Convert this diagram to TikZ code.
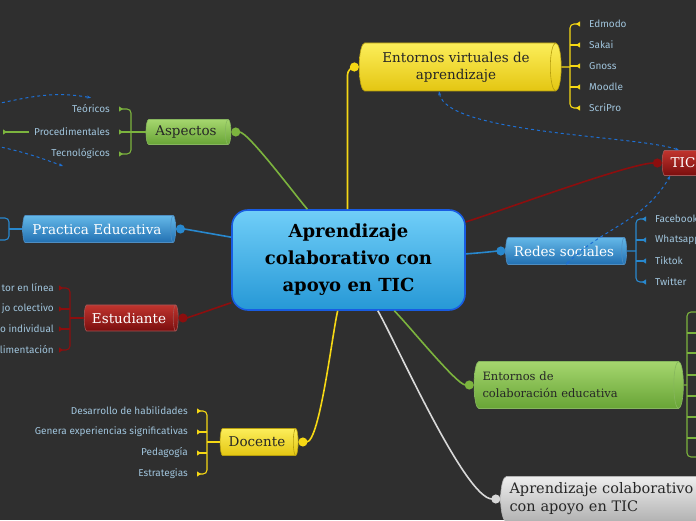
\documentclass[tikz,border=0pt]{standalone}
\usepackage{fontspec}
\setmainfont{DejaVu Serif}
\newfontfamily\leaffont{Fira Sans}
\usetikzlibrary{shapes.geometric,arrows.meta}
\definecolor{bg}{RGB}{47,47,47}
\definecolor{yelT}{RGB}{252,238,90}
\definecolor{yelB}{RGB}{228,198,18}
\definecolor{yelL}{RGB}{246,216,20}
\definecolor{grnT}{RGB}{165,214,110}
\definecolor{grnB}{RGB}{104,164,54}
\definecolor{grnL}{RGB}{124,180,62}
\definecolor{bluT}{RGB}{100,184,232}
\definecolor{bluB}{RGB}{34,112,178}
\definecolor{bluL}{RGB}{40,136,206}
\definecolor{redT}{RGB}{192,52,46}
\definecolor{redB}{RGB}{122,14,14}
\definecolor{redL}{RGB}{140,14,14}
\definecolor{gryT}{RGB}{238,238,238}
\definecolor{gryB}{RGB}{178,178,178}
\definecolor{gryL}{RGB}{216,216,216}
\definecolor{cenT}{RGB}{112,206,248}
\definecolor{cenB}{RGB}{38,152,214}
\definecolor{cenD}{RGB}{24,92,226}
\definecolor{relB}{RGB}{30,112,212}
\definecolor{leafC}{RGB}{160,196,220}
\begin{document}
\begin{tikzpicture}[x=1pt, y=1pt,
  topic/.style={cylinder, aspect=0.3, line width=0.6pt, align=center, inner xsep=6pt, inner ysep=3pt,
    font=\fontsize{13.5}{17}\selectfont},
  yeltopic/.style={topic, draw=yelB!80!black, top color=yelT, bottom color=yelB, text=black!85},
  grntopic/.style={topic, draw=grnB!80!white, top color=grnT, bottom color=grnB, text=black!85},
  blutopic/.style={topic, draw=bluB!80!white, top color=bluT, bottom color=bluB, text=white},
  redtopic/.style={topic, draw=redB!70!white, top color=redT, bottom color=redB, text=white},
  grytopic/.style={topic, draw=gryB, top color=gryT, bottom color=gryB, text=black!85},
  leaf/.style={font=\leaffont\fontsize{10}{12}\selectfont, text=leafC, inner xsep=9pt, inner ysep=2pt},
  branch/.style={#1, line width=1.6pt, -{Circle[length=9pt]}},
  twig/.style={#1, line width=1.1pt, rounded corners=4pt},
  flag/.style={-{Triangle[reversed,length=4pt,width=5pt]}},
  flags/.style={{Triangle[reversed,length=4pt,width=5pt]}-{Triangle[reversed,length=4pt,width=5pt]}},
  rel/.style={relB, line width=1pt, dash pattern=on 3pt off 3pt}]
  \useasboundingbox (0,0) rectangle (696,520);
  \fill[bg] (0,0) rectangle (696,520);

  % central topic and main topics
  \node[draw=cenD, line width=1.6pt, rounded corners=16pt, top color=cenT, bottom color=cenB,
    minimum width=233pt, minimum height=100pt, align=center,
    font=\bfseries\fontsize{18}{27}\selectfont] (central) at (348.5,260)
    {Aprendizaje\\colaborativo con\\apoyo en TIC};
  \node[yeltopic, minimum width=48pt, minimum height=202pt] (eva) at (456,453) {Entornos virtuales de\\aprendizaje};
  \node[grntopic, minimum width=25pt, minimum height=85pt] (asp) at (186,388) {Aspectos};
  \node[blutopic, minimum width=27pt, minimum height=153pt] (prac) at (97,291) {Practica Educativa};
  \node[redtopic, minimum width=26pt, minimum height=94pt] (est) at (129,202) {Estudiante};
  \node[yeltopic, minimum width=27pt, minimum height=78pt] (doc) at (257,78) {Docente};
  \node[blutopic, minimum width=27pt, minimum height=121pt] (redes) at (564,269) {Redes sociales};
  \node[redtopic, minimum width=25pt, minimum height=46pt] (tic) at (683,357) {TIC};
  \node[grntopic, minimum width=47pt, minimum height=203pt, text width=185pt, align=left,
    font=\fontsize{11.5}{17}\selectfont] (ece) at (575,135) {Entornos de\\colaboración educativa};
  \node[grytopic, minimum width=45pt, minimum height=240pt, text width=215pt, align=left,
    font=\fontsize{14.5}{18}\selectfont] (acatic) at (617,21) {Aprendizaje colaborativo\\con apoyo en TIC};

  \draw[branch=yelL, rounded corners=8pt] ([xshift=-1pt]central.north) |- (eva.west);
  \draw[branch=grnL] (central.129) to[out=131, in=0, looseness=0.4] (asp.east);
  \draw[branch=bluL] (central.169) to[out=170, in=0, looseness=0.4] (prac.east);
  \draw[branch=redL] (central.200) to[out=199, in=0, looseness=0.4] (est.east);
  \draw[branch=yelL] (central.258) to[out=256, in=0, looseness=0.4] (doc.east);
  \draw[branch=gryL] (central.300) to[out=-60, in=180, looseness=0.4] (acatic.west);
  \draw[branch=grnL] (central.312) to[out=-44, in=180, looseness=0.4] (ece.west);
  \draw[branch=bluL] (central.3) to[out=2, in=180, looseness=0.4] (redes.west);
  \draw[branch=redL] (central.18) to[out=17, in=180, looseness=0.4] (tic.west);

  % Entornos virtuales
  \foreach \n/\t/\y in {edmodo/Edmodo/496, sakai/Sakai/475, gnoss/Gnoss/454, moodle/Moodle/433, scripro/ScriPro/412}
    \node[leaf, anchor=west] (\n) at (580,\y) {\t};
  \coordinate (evaT) at (570,453);
  \draw[twig=yelL] (eva.east) -- (evaT);
  \draw[twig=yelL, flags] (edmodo.west) -| (evaT) |- (scripro.west);
  \foreach \n in {sakai,gnoss,moodle}
    \draw[twig=yelL, flag] (evaT |- \n.west) -- (\n.west);

  % Aspectos
  \foreach \n/\t/\y in {teoricos/Teóricos/411, proced/Procedimentales/388, tecno/Tecnológicos/366}
    \node[leaf, anchor=east] (\n) at (119,\y) {\t};
  \coordinate (aspT) at (131,388);
  \coordinate (procOut) at (3,388);
  \draw[twig=grnL] (asp.west) -- (aspT);
  \draw[twig=grnL, flags] (teoricos.east) -| (aspT) |- (tecno.east);
  \draw[twig=grnL, flag] (aspT |- proced.east) -- (proced.east);
  \draw[twig=grnL, flag] ([xshift=4pt]proced.west) -- (procOut);

  % Practica Educativa
  \coordinate (pracT) at (9,291);
  \coordinate (pracA) at (-5,302);
  \coordinate (pracB) at (-5,280);
  \draw[twig=bluL] (prac.west) -- (pracT);
  \draw[twig=bluL] (pracA) -| (pracT) |- (pracB);

  % Estudiante
  \foreach \n/\t/\y in {est1/tor en línea/232, est2/jo colectivo/211, est3/o individual/191, est4/limentación/170}
    \node[leaf, anchor=east, inner xsep=5pt] (\n) at (59,\y) {\t};
  \coordinate (estT) at (70,202);
  \draw[twig=redL] (est.west) -- (estT);
  \draw[twig=redL, flags] (est1.east) -| (estT) |- (est4.east);
  \foreach \n in {est2,est3}
    \draw[twig=redL, flag] (estT |- \n.east) -- (\n.east);

  % Docente
  \foreach \n/\t/\y in {hab/Desarrollo de habilidades/109, exp/Genera experiencias significativas/88, ped/Pedagogía/67, estr/Estrategias/46}
    \node[leaf, anchor=east] (\n) at (197,\y) {\t};
  \coordinate (docT) at (207,78);
  \draw[twig=yelL] (doc.west) -- (docT);
  \draw[twig=yelL, flags] (hab.east) -| (docT) |- (estr.east);
  \foreach \n in {exp,ped}
    \draw[twig=yelL, flag] (docT |- \n.east) -- (\n.east);

  % Redes sociales
  \foreach \n/\t/\y in {fb/Facebook/301, wa/Whatsapp/280, tt/Tiktok/259, tw/Twitter/238}
    \node[leaf, anchor=west] (\n) at (646,\y) {\t};
  \coordinate (redT) at (636,269);
  \draw[twig=bluL] (redes.east) -- (redT);
  \draw[twig=bluL, flags] (fb.west) -| (redT) |- (tw.west);
  \foreach \n in {wa,tt}
    \draw[twig=bluL, flag] (redT |- \n.west) -- (\n.west);

  % Entornos de colaboracion
  \foreach \i/\y in {1/208,2/187,3/167,4/145,5/124,6/103,7/82,8/63}
    \coordinate (ece\i) at (702,\y);
  \coordinate (eceT) at (687,135);
  \draw[twig=grnL] (ece.east) -- (eceT);
  \draw[twig=grnL] (ece1) -| (eceT) |- (ece8);
  \foreach \i in {2,...,7}
    \draw[twig=grnL] (eceT |- ece\i) -- (ece\i);

  % relationships
  \coordinate (relA) at (-4,416);
  \coordinate (relB) at (-4,374);
  \coordinate (relC) at (63,354);
  \draw[rel, {Stealth[length=4pt]}-{Stealth[length=4pt]}] ([xshift=-17pt]eva.south)
    to[out=-80, in=160, looseness=0.45] ([xshift=-4pt]tic.north);
  \draw[rel, {Stealth[length=4pt]}-{Stealth[length=4pt]}] ([xshift=-12pt]redes.south east)
    to[out=45, in=-120] (tic.south west);
  \draw[rel, -{Stealth[length=4pt]}] (relA) to[out=12, in=170] ([yshift=5pt]teoricos.north);
  \draw[rel, -{Stealth[length=4pt]}] (relB) to[out=-12, in=160] (relC);
\end{tikzpicture}
\end{document}
